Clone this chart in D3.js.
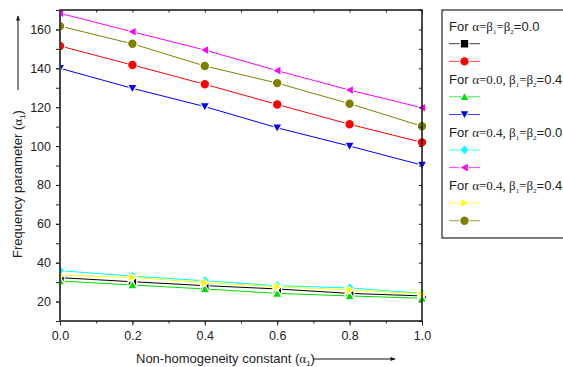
<!DOCTYPE html>
<html>
<head>
<meta charset="utf-8">
<script src="https://cdn.jsdelivr.net/npm/d3@7"></script>
<style>
  body { margin: 0; background: #fff; }
  svg text { font-family: Arial, "Liberation Sans", sans-serif; fill: #222; }
  .serif { font-family: "Times New Roman", "Liberation Serif", serif; }
</style>
</head>
<body>
<svg id="chart" width="563" height="367"></svg>
<script>
// values
const xValues = [0.0, 0.2, 0.4, 0.6, 0.8, 1.0];
const blackSq   = [32.3, 30.2, 28.2, 26.5, 24.2, 22.9];
const redCirc   = [151.5, 141.7, 131.8, 121.4, 111.2, 101.9];
const greenUp   = [30.6, 28.5, 26.5, 24.2, 22.9, 21.7];
const blueDown  = [140.0, 129.7, 120.3, 109.4, 100.0, 90.2];
const cyanDia   = [35.9, 33.1, 30.7, 28.2, 27.0, 24.2];
const magLeft   = [168.3, 158.8, 149.4, 138.8, 128.8, 119.7];
const yelRight  = [33.5, 32.5, 29.7, 27.6, 26.0, 23.9];
const oliveCirc = [161.7, 152.6, 141.2, 132.4, 121.8, 110.2];
const xTicks = [0.0, 0.2, 0.4, 0.6, 0.8, 1.0];
const yTicks = [20, 40, 60, 80, 100, 120, 140, 160];

const series = [
  { values: blackSq,   color: "#000000", shape: "square" },
  { values: redCirc,   color: "#ff0000", shape: "circle" },
  { values: greenUp,   color: "#00e000", shape: "up" },
  { values: blueDown,  color: "#0000ff", shape: "down" },
  { values: cyanDia,   color: "#00ffff", shape: "diamond" },
  { values: magLeft,   color: "#ff00ff", shape: "left" },
  { values: yelRight,  color: "#ffff00", shape: "right" },
  { values: oliveCirc, color: "#808000", shape: "circle" }
];

// legend headings: [sans, serif, sub, serif, sub, sans]
const headings = [
  ["For ", "α=β", "1", "=β", "2", "=0.0"],
  ["For ", "α=0.0, β", "1", "=β", "2", "=0.4"],
  ["For ", "α=0.4, β", "1", "=β", "2", "=0.0"],
  ["For ", "α=0.4, β", "1", "=β", "2", "=0.4"]
];

const svg = d3.select("#chart");
const m = { left: 60, right: 422, top: 10, bottom: 321 };

const x = d3.scaleLinear().domain([0, 1]).range([m.left, m.right]);
const y = d3.scaleLinear().domain([10, 170]).range([m.bottom, m.top]);

// symbols
function drawMarker(g, shape, color, cx, cy) {
  const s = 4.8;
  let el;
  if (shape === "circle") {
    el = g.append("circle").attr("cx", cx).attr("cy", cy).attr("r", s);
  } else {
    let pts;
    if (shape === "square") pts = [[-s+0.5,-s+0.5],[s-0.5,-s+0.5],[s-0.5,s-0.5],[-s+0.5,s-0.5]];
    if (shape === "diamond") pts = [[0,-s-0.5],[s,0],[0,s+0.5],[-s,0]];
    if (shape === "up") pts = [[0,-s],[s,s*0.8],[-s,s*0.8]];
    if (shape === "down") pts = [[0,s],[s,-s*0.8],[-s,-s*0.8]];
    if (shape === "left") pts = [[-s,0],[s*0.8,-s],[s*0.8,s]];
    if (shape === "right") pts = [[s,0],[-s*0.8,-s],[-s*0.8,s]];
    el = g.append("polygon").attr("points", pts.map(p => [cx + p[0], cy + p[1]].join(",")).join(" "));
  }
  el.attr("fill", color).attr("stroke", "#fff").attr("stroke-width", 1.2);
}

svg.append("clipPath").attr("id", "plotclip")
  .append("rect").attr("x", m.left).attr("y", m.top - 6)
  .attr("width", m.right - m.left + 6).attr("height", m.bottom - m.top + 6);

const plot = svg.append("g").attr("clip-path", "url(#plotclip)");

const line = d3.line().x((d, i) => x(xValues[i])).y(d => y(d));
series.forEach(s => {
  plot.append("path").datum(s.values)
    .attr("d", line).attr("fill", "none")
    .attr("stroke", s.color).attr("stroke-width", 1);
});
series.forEach(s => {
  s.values.forEach((v, i) => drawMarker(plot, s.shape, s.color, x(xValues[i]), y(v)));
});

// axes
const xMinor = d3.range(0, 1.0001, 0.1);
const yMinor = d3.range(10, 170.001, 10);

svg.append("g").attr("transform", `translate(0,${m.bottom})`)
  .call(d3.axisBottom(x).tickValues(xMinor).tickSize(2.5).tickFormat(""))
  .call(g => g.select(".domain").remove());
svg.append("g").attr("transform", `translate(0,${m.bottom})`)
  .call(d3.axisBottom(x).tickValues(xTicks).tickSize(4.5).tickPadding(6).tickFormat(d3.format(".1f")))
  .call(g => g.select(".domain").remove());
svg.append("g").attr("transform", `translate(0,${m.top})`)
  .call(d3.axisBottom(x).tickValues(xMinor).tickSize(2.5).tickFormat(""))
  .call(g => g.select(".domain").remove());
svg.append("g").attr("transform", `translate(${m.left},0)`)
  .call(d3.axisLeft(y).tickValues(yMinor).tickSize(4).tickFormat(""))
  .call(g => g.select(".domain").remove());
svg.append("g").attr("transform", `translate(${m.left},0)`)
  .call(d3.axisLeft(y).tickValues(yTicks).tickSize(4).tickPadding(5).tickFormat(d3.format("d")))
  .call(g => g.select(".domain").remove());
svg.append("g").attr("transform", `translate(${m.right},0)`)
  .call(d3.axisLeft(y).tickValues(yMinor).tickSize(3).tickFormat(""))
  .call(g => g.select(".domain").remove());

svg.selectAll(".tick text").attr("font-size", 12.5).attr("fill", "#222")
  .style("font-family", "Arial, 'Liberation Sans', sans-serif");
svg.selectAll(".tick line").attr("stroke", "#222");

// frame
svg.append("rect").attr("x", m.left).attr("y", m.top)
  .attr("width", m.right - m.left).attr("height", m.bottom - m.top)
  .attr("fill", "none").attr("stroke", "#111").attr("stroke-width", 1.5);
svg.append("line").attr("x1", m.left).attr("x2", m.left).attr("y1", m.top).attr("y2", m.bottom)
  .attr("stroke", "#444").attr("stroke-width", 2);

// arrow marker
svg.append("defs").append("marker").attr("id", "arr")
  .attr("viewBox", "0 0 10 10").attr("refX", 9).attr("refY", 5)
  .attr("markerWidth", 7).attr("markerHeight", 5).attr("orient", "auto")
  .append("path").attr("d", "M0,1 L10,5 L0,9 Z").attr("fill", "#111");

// x title
const xt = svg.append("text").attr("x", 136).attr("y", 363).attr("font-size", 13);
xt.append("tspan").text("Non-homogeneity constant (");
xt.append("tspan").attr("class", "serif").text("α");
xt.append("tspan").attr("font-size", 8).attr("dy", 3).text("1");
xt.append("tspan").attr("dy", -3).text(")");
svg.append("line").attr("x1", 313).attr("x2", 395).attr("y1", 359).attr("y2", 359)
  .attr("stroke", "#111").attr("stroke-width", 1).attr("marker-end", "url(#arr)");

// y title
const yt = svg.append("text").attr("transform", "translate(22,258) rotate(-90)").attr("font-size", 13);
yt.append("tspan").text("Frequency parameter (");
yt.append("tspan").attr("class", "serif").text("α");
yt.append("tspan").attr("font-size", 8).attr("dy", 3).text("1");
yt.append("tspan").attr("dy", -3).text(")");
svg.append("line").attr("x1", 18).attr("x2", 18).attr("y1", 90).attr("y2", 16)
  .attr("stroke", "#111").attr("stroke-width", 1).attr("marker-end", "url(#arr)");

// legend
const lg = svg.append("g");
lg.append("rect").attr("x", 442).attr("y", 10).attr("width", 140).attr("height", 228)
  .attr("fill", "#fff").attr("stroke", "#333").attr("stroke-width", 1.3);

const rowH = 17.7;
headings.forEach((h, gi) => {
  const ty = 26 + gi * rowH * 3 + 4.5;
  const t = lg.append("text").attr("x", 449).attr("y", ty).attr("font-size", 13);
  t.append("tspan").text(h[0]);
  t.append("tspan").attr("class", "serif").text(h[1]);
  t.append("tspan").attr("class", "serif").attr("font-size", 7).attr("dy", 3).text(h[2]);
  t.append("tspan").attr("class", "serif").attr("dy", -3).text(h[3]);
  t.append("tspan").attr("class", "serif").attr("font-size", 7).attr("dy", 3).text(h[4]);
  t.append("tspan").attr("dy", -3).text(h[5]);
  [0, 1].forEach(k => {
    const s = series[gi * 2 + k];
    const ly = 26 + gi * rowH * 3 + (k + 1) * rowH;
    lg.append("line").attr("x1", 449).attr("x2", 480).attr("y1", ly).attr("y2", ly)
      .attr("stroke", s.color).attr("stroke-width", 1).attr("stroke-opacity", 0.75);
    drawMarker(lg, s.shape, s.color, 464.5, ly);
  });
});
</script>
</body>
</html>
